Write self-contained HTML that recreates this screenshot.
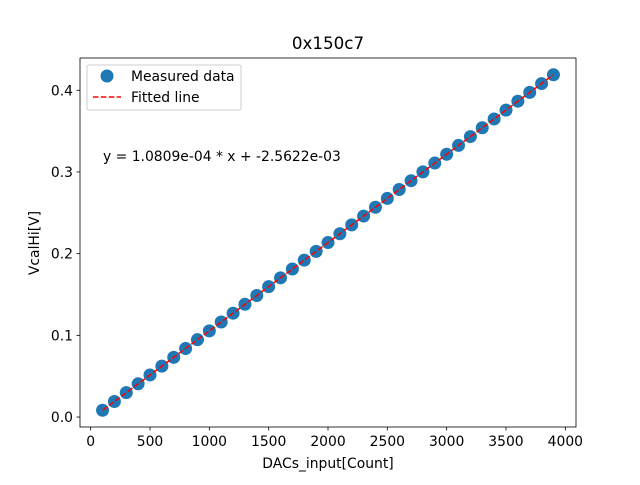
<!DOCTYPE html>
<html><head><meta charset="utf-8"><style>
body{margin:0;background:#fff;font-family:"Liberation Sans","DejaVu Sans",sans-serif;}
svg text{font-family:"DejaVu Sans","Liberation Sans",sans-serif;}
</style></head><body>
<svg id="chart" width="640" height="480" xmlns="http://www.w3.org/2000/svg">
<rect width="640" height="480" fill="#fff"/>
<g id="plot"></g>
</svg>
<script>
const xValues=[100,200,300,400,500,600,700,800,900,1000,1100,1200,1300,1400,1500,1600,1700,1800,1900,2000,2100,2200,2300,2400,2500,2600,2700,2800,2900,3000,3100,3200,3300,3400,3500,3600,3700,3800,3900];
const yValues=[0.0083,0.0190,0.0299,0.0407,0.0515,0.0623,0.0731,0.0839,0.0947,0.1055,0.1163,0.1271,0.1380,0.1488,0.1596,0.1704,0.1812,0.1920,0.2028,0.2136,0.2244,0.2352,0.2460,0.2568,0.2677,0.2785,0.2893,0.3001,0.3109,0.3217,0.3325,0.3433,0.3541,0.3649,0.3757,0.3866,0.3974,0.4082,0.4190];
const slope=1.0809e-4, intercept=-2.5622e-3;
const xTicks=[0,500,1000,1500,2000,2500,3000,3500,4000];
const yTicks=[0.0,0.1,0.2,0.3,0.4];
const L=80,R=576,T=58,B=427;
const xmin=-90,xmax=4090,ymin=-0.0122,ymax=0.4395;
const sx=v=>L+(v-xmin)/(xmax-xmin)*(R-L);
const sy=v=>B-(v-ymin)/(ymax-ymin)*(B-T);
const NS="http://www.w3.org/2000/svg";
const g=document.getElementById('plot');
function mk(tag,attrs,parent){const e=document.createElementNS(NS,tag);for(const k in attrs)e.setAttribute(k,attrs[k]);(parent||g).appendChild(e);return e;}
xValues.forEach((x,i)=>{
 const c=mk('circle',{cx:sx(x),cy:sy(yValues[i]),r:6.5,fill:'#1f77b4'});
 
 
});
const x0=xValues[0],x1=xValues[xValues.length-1];
const fl=mk('line',{x1:sx(x0),y1:sy(slope*x0+intercept),x2:sx(x1),y2:sy(slope*x1+intercept),stroke:'red','stroke-width':1.5,'stroke-dasharray':'5.5,2.4'});


const fr=mk('rect',{x:L,y:T,width:R-L,height:B-T,fill:'none',stroke:'#000','stroke-width':0.8});


xTicks.forEach(t=>{
 const x=sx(t);
 mk('line',{x1:x,y1:B,x2:x,y2:B+3.5,stroke:'#000','stroke-width':0.8});
 const tx=mk('text',{x:x,y:B+19,'font-size':13.9,'text-anchor':'middle'});tx.textContent=t;
 
 
});
yTicks.forEach(t=>{
 const y=sy(t);
 mk('line',{x1:L-3.5,y1:y,x2:L,y2:y,stroke:'#000','stroke-width':0.8});
 const tx=mk('text',{x:L-7,y:y+5,'font-size':13.9,'text-anchor':'end'});tx.textContent=t.toFixed(1);
 
 
});
</script>
<svg style="position:absolute;left:0;top:0" width="640" height="480" xmlns="http://www.w3.org/2000/svg">
<text x="328" y="49" font-size="16.7" text-anchor="middle">0x150c7</text>
<text x="328" y="468" font-size="13.9" text-anchor="middle">DACs_input[Count]</text>
<text x="39" y="243" font-size="13.9" text-anchor="middle" transform="rotate(-90 39 243)">VcalHi[V]</text>
<text x="103" y="161" font-size="13.9">y = 1.0809e-04 * x + -2.5622e-03</text>
<g>
<rect x="87" y="65" width="154" height="45" rx="2" fill="#fff" fill-opacity="0.8" stroke="#ccc"/>
<circle cx="107" cy="76" r="6.5" fill="#1f77b4"/>
<text x="131" y="81" font-size="13.9">Measured data</text>
<line x1="93" y1="97" x2="121" y2="97" stroke="red" stroke-width="1.5" stroke-dasharray="5.5,2.4"/>
<text x="131" y="102" font-size="13.9">Fitted line</text>
</g>
</svg>
</body></html>
